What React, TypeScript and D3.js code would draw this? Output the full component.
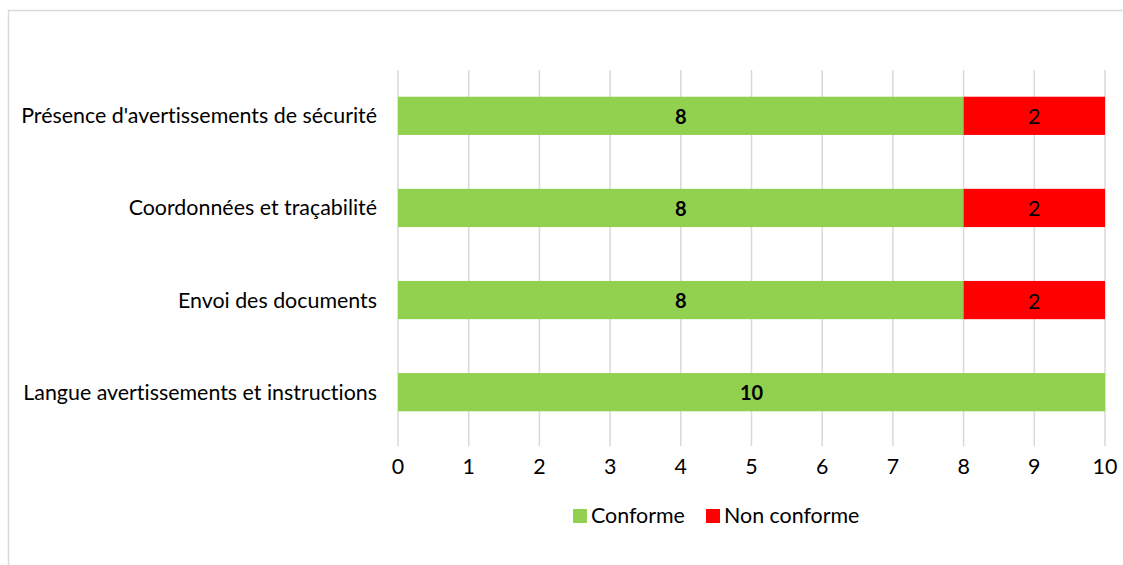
import React, { useEffect, useRef } from 'react';
import * as d3 from 'd3';

const categories = [
  "Présence d'avertissements de sécurité",
  'Coordonnées et traçabilité',
  'Envoi des documents',
  'Langue avertissements et instructions',
];
const conforme = [8, 8, 8, 10];
const nonConforme = [2, 2, 2, 0];
const xTicks = [0, 1, 2, 3, 4, 5, 6, 7, 8, 9, 10];
const seriesNames = ['Conforme', 'Non conforme'];
const seriesColors = ['#92d050', '#ff0000'];

const App: React.FC = () => {
  const svgRef = useRef<SVGSVGElement>(null);

  useEffect(() => {
    if (!svgRef.current) return;
    const width = 1123;
    const height = 565;
    const font = 'Lato, "Open Sans", sans-serif';
    const fs = '21.4px';
    const svg = d3.select(svgRef.current);
    svg.selectAll('*').remove();
    svg.attr('width', width).attr('height', height)
      .style('font-variant-ligatures', 'none');

    // chart frame (clipped on right/bottom like the source)
    svg.append('rect')
      .attr('x', 8.5).attr('y', 10.5)
      .attr('width', 1200).attr('height', 700)
      .attr('fill', '#fff')
      .attr('stroke', '#d9d9d9').attr('stroke-width', 1.5);

    const x = d3.scaleLinear().domain([0, 10]).range([398, 1105]);
    const y = d3.scaleBand().domain(categories).range([70, 438]).paddingInner(0.585).paddingOuter(0.29);

    // gridlines
    svg.append('g')
      .selectAll('line')
      .data(xTicks)
      .join('line')
      .attr('x1', d => x(d)).attr('x2', d => x(d))
      .attr('y1', 70).attr('y2', 446)
      .attr('stroke', '#d9d9d9').attr('stroke-width', 1.5);

    const rows = categories.map((c, i) => ({ c, a: conforme[i], b: nonConforme[i] }));

    const bars = svg.append('g');
    bars.selectAll('rect.ok')
      .data(rows)
      .join('rect')
      .attr('class', 'ok')
      .attr('x', x(0))
      .attr('y', d => y(d.c)!)
      .attr('width', d => x(d.a) - x(0))
      .attr('height', y.bandwidth())
      .attr('fill', seriesColors[0]);
    bars.selectAll('rect.nok')
      .data(rows.filter(d => d.b > 0))
      .join('rect')
      .attr('class', 'nok')
      .attr('x', d => x(d.a))
      .attr('y', d => y(d.c)!)
      .attr('width', d => x(d.a + d.b) - x(d.a))
      .attr('height', y.bandwidth())
      .attr('fill', seriesColors[1]);

    // value labels
    bars.selectAll('text.ok')
      .data(rows)
      .join('text')
      .attr('class', 'ok')
      .attr('x', d => (x(0) + x(d.a)) / 2)
      .attr('y', d => y(d.c)! + y.bandwidth() / 2 + 1)
      .attr('dy', '0.35em')
      .attr('text-anchor', 'middle')
      .style('font-family', font).style('font-size', '20px').style('font-weight', 'bold')
      .text(d => d.a);
    bars.selectAll('text.nok')
      .data(rows.filter(d => d.b > 0))
      .join('text')
      .attr('class', 'nok')
      .attr('x', d => (x(d.a) + x(d.a + d.b)) / 2)
      .attr('y', d => y(d.c)! + y.bandwidth() / 2 + 1)
      .attr('dy', '0.35em')
      .attr('text-anchor', 'middle')
      .style('font-family', font).style('font-size', fs)
      .text(d => d.b);

    // category labels
    svg.append('g')
      .selectAll('text')
      .data(categories)
      .join('text')
      .attr('x', 377)
      .attr('y', d => y(d)! + y.bandwidth() / 2)
      .attr('dy', '0.35em')
      .attr('text-anchor', 'end')
      .attr('fill', '#000')
      .style('font-family', font).style('font-size', fs)
      .text(d => d);

    // x tick labels
    svg.append('g')
      .selectAll('text')
      .data(xTicks)
      .join('text')
      .attr('x', d => x(d))
      .attr('y', 467)
      .attr('dy', '0.35em')
      .attr('text-anchor', 'middle')
      .style('font-family', font).style('font-size', fs)
      .text(d => d);

    // legend
    const legend = svg.append('g');
    const legendX = [573, 706];
    seriesNames.forEach((name, i) => {
      legend.append('rect')
        .attr('x', legendX[i]).attr('y', 509)
        .attr('width', 14).attr('height', 14)
        .attr('fill', seriesColors[i]);
      legend.append('text')
        .attr('x', legendX[i] + 18).attr('y', 516)
        .attr('dy', '0.35em')
        .style('font-family', font).style('font-size', fs)
        .text(name);
    });
  }, []);

  return <svg ref={svgRef} style={{ position: 'absolute', left: 0, top: 0 }}></svg>;
};

export default App;
